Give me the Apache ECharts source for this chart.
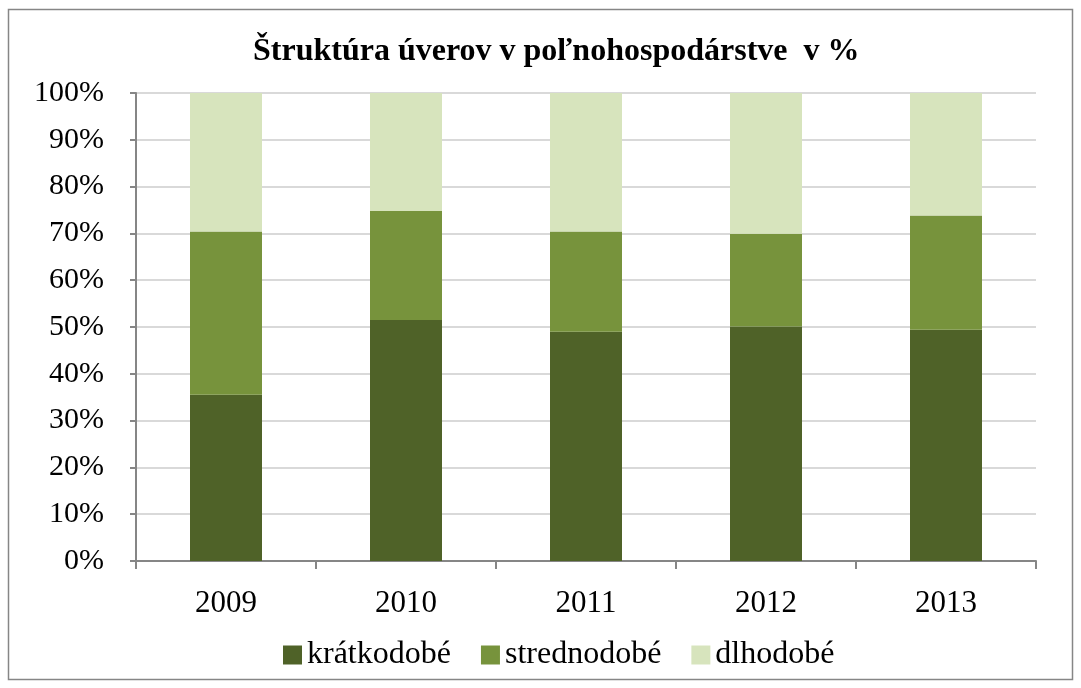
<!DOCTYPE html>
<html>
<head>
<meta charset="utf-8">
<script src="https://cdn.jsdelivr.net/npm/echarts@6/dist/echarts.min.js"></script>
<style>html,body{margin:0;padding:0;background:#fff;}#c{width:1081px;height:688px;}</style>
</head>
<body>
<div id="c"></div>
<script>
const categories = ['2009', '2010', '2011', '2012', '2013'];
const kratkodobe = [35.5, 51.5, 49.0, 50.1, 49.4];
const strednodobe = [34.9, 23.3, 21.4, 19.8, 24.4];
const dlhodobe = [29.6, 25.2, 29.6, 30.1, 26.2];
const seriesNames = ['krátkodobé', 'strednodobé', 'dlhodobé'];
const titleText = 'Štruktúra úverov v poľnohospodárstve  v %';

const FONT = '"Liberation Serif", "Times New Roman", serif';
const colors = ['#4F6228', '#77933C', '#D7E4BD'];
const chart = echarts.init(document.getElementById('c'), null, {renderer: 'canvas'});
const dataSets = [kratkodobe, strednodobe, dlhodobe];
chart.setOption({
  animation: false,
  backgroundColor: '#fff',
  graphic: [{
    type: 'rect', shape: {x: 8.5, y: 9.5, width: 1064, height: 670},
    style: {fill: 'none', stroke: '#868686', lineWidth: 1.5}, silent: true, z: -1
  }],
  title: {
    text: titleText, left: 248, top: 31,
    textStyle: {fontFamily: FONT, fontWeight: 'bold', fontSize: 32, color: '#000'}
  },
  legend: {
    bottom: 12, left: 278, itemWidth: 19, itemHeight: 19, itemGap: 30,
    icon: 'rect',
    textStyle: {fontFamily: FONT, fontSize: 32, color: '#000'},
    data: seriesNames
  },
  grid: {left: 136, top: 93, right: 45, bottom: 127, containLabel: false},
  xAxis: {
    type: 'category', data: categories,
    axisLine: {lineStyle: {color: '#868686', width: 2}},
    axisTick: {show: true, length: 8, lineStyle: {color: '#868686', width: 2}, alignWithLabel: false},
    axisLabel: {fontFamily: FONT, fontSize: 31, color: '#000', margin: 27}
  },
  yAxis: {
    type: 'value', min: 0, max: 100, interval: 10,
    axisLine: {show: true, lineStyle: {color: '#868686', width: 2}},
    axisTick: {show: true, length: 6, lineStyle: {color: '#868686', width: 2}},
    axisLabel: {fontFamily: FONT, fontSize: 30, color: '#000', margin: 32, formatter: '{value}%'},
    splitLine: {show: true, lineStyle: {color: '#D9D9D9', width: 2}}
  },
  series: seriesNames.map((n, i) => ({
    name: n, type: 'bar', stack: 'total', data: dataSets[i],
    barWidth: 72,
    itemStyle: {color: colors[i]}
  }))
});
</script>
</body>
</html>
